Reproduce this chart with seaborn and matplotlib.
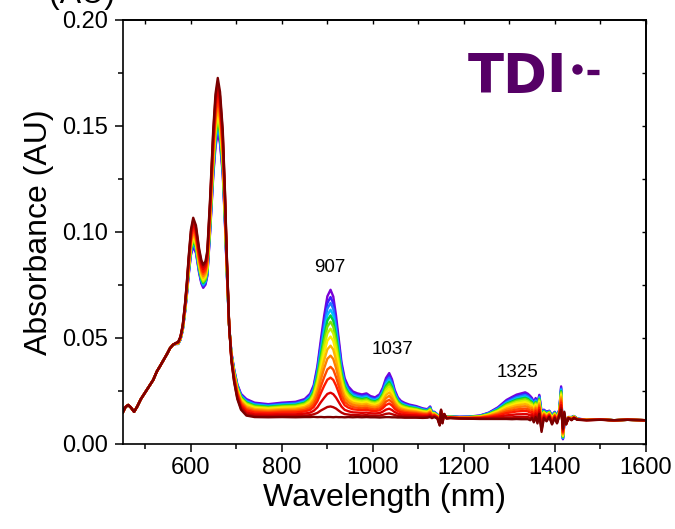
import numpy as np
import pandas as pd
import matplotlib
matplotlib.use("Agg")
import matplotlib.pyplot as plt
from matplotlib.ticker import MultipleLocator, FormatStrFormatter, NullFormatter
import seaborn as sns

# ---------------- data ----------------
wavelength = [450, 456, 462, 468, 475, 482, 490, 499, 508, 517, 525, 532, 540, 548, 554, 561, 567,
              572, 577, 582, 587, 591, 595, 600, 605, 611, 618, 623, 627, 632, 636, 642, 649, 654,
              659, 664, 670, 675, 679, 684, 689, 695, 702, 710, 722, 740, 770, 800, 830, 850, 862,
              870, 878, 886, 893, 900, 907, 913, 919, 925, 931, 938, 946, 956, 966, 976, 986, 995,
              1005, 1015, 1022, 1029, 1036, 1042, 1048, 1055, 1062, 1070, 1080, 1095, 1110, 1120,
              1126, 1130, 1135, 1142, 1147, 1150, 1153, 1157, 1162, 1170, 1190, 1210, 1235, 1255,
              1275, 1294, 1306, 1316, 1326, 1335, 1341, 1346, 1350, 1354, 1358, 1362, 1366, 1371,
              1376, 1382, 1388, 1394, 1400, 1405, 1410, 1414, 1418, 1421, 1425, 1430, 1437, 1442,
              1450, 1470, 1500, 1530, 1560, 1600]

# spectrum of the last (dark red) trace
base_spectrum = [0.0146, 0.0172, 0.0182, 0.0170, 0.0150, 0.0175, 0.0210, 0.0240, 0.0270, 0.0300,
                 0.0340, 0.0365, 0.0395, 0.0425, 0.0450, 0.0467, 0.0475, 0.0480, 0.0505, 0.0560,
                 0.0660, 0.0760, 0.0880, 0.1010, 0.1066, 0.1030, 0.0920, 0.0865, 0.0844, 0.0860,
                 0.0910, 0.1150, 0.1480, 0.1650, 0.1726, 0.1660, 0.1480, 0.1180, 0.0880, 0.0560,
                 0.0390, 0.0290, 0.0210, 0.0160, 0.0132, 0.0125, 0.0124, 0.0125, 0.0124, 0.0125,
                 0.0125, 0.0126, 0.0125, 0.0126, 0.0125, 0.0126, 0.0126, 0.0125, 0.0126, 0.0125,
                 0.0125, 0.0124, 0.0125, 0.0124, 0.0125, 0.0124, 0.0125, 0.0124, 0.0124, 0.0123,
                 0.0124, 0.0125, 0.0125, 0.0124, 0.0124, 0.0123, 0.0123, 0.0122, 0.0122, 0.0122,
                 0.0121, 0.0122, 0.0125, 0.0120, 0.0125, 0.0118, 0.0085, 0.0160, 0.0095, 0.0140,
                 0.0118, 0.0120, 0.0118, 0.0117, 0.0116, 0.0116, 0.0116, 0.0116, 0.0115, 0.0116,
                 0.0115, 0.0115, 0.0115, 0.0110, 0.0120, 0.0100, 0.0125, 0.0095, 0.0140, 0.0055,
                 0.0120, 0.0105, 0.0125, 0.0090, 0.0120, 0.0095, 0.0130, 0.0160, 0.0070, 0.0150,
                 0.0090, 0.0120, 0.0110, 0.0120, 0.0112, 0.0110, 0.0112, 0.0110, 0.0112, 0.0110]

# difference between the first (violet) trace and the last trace
violet_minus_base = [0, 0, 0, 0, 0, 0, 0, 0, 0, 0, 0, 0, 0, 0, 0, 0, -0.0005, -0.0010, -0.0015,
                     -0.0025, -0.0040, -0.0060, -0.0085, -0.0120, -0.0136, -0.0130, -0.0115,
                     -0.0110, -0.0109, -0.0110, -0.0120, -0.0160, -0.0220, -0.0250, -0.0256,
                     -0.0245, -0.0210, -0.0150, -0.0080, -0.0005, 0.0040, 0.0060, 0.0070, 0.0075,
                     0.0078, 0.0068, 0.0062, 0.0068, 0.0073, 0.0085, 0.0110, 0.0150, 0.0240,
                     0.0370, 0.0480, 0.0570, 0.0601, 0.0570, 0.0480, 0.0370, 0.0260, 0.0185,
                     0.0145, 0.0122, 0.0112, 0.0108, 0.0112, 0.0100, 0.0094, 0.0110, 0.0140,
                     0.0185, 0.0208, 0.0180, 0.0130, 0.0095, 0.0078, 0.0070, 0.0062, 0.0055,
                     0.0045, 0.0040, 0.0050, 0.0030, 0.0025, 0.0020, 0.0030, -0.0020, 0.0030,
                     -0.0010, 0.0010, 0.0008, 0.0008, 0.0010, 0.0016, 0.0030, 0.0055, 0.0090,
                     0.0105, 0.0115, 0.0122, 0.0127, 0.0120, 0.0115, 0.0095, 0.0095, 0.0090,
                     0.0095, 0.0090, 0.0095, 0.0040, 0.0045, 0.0030, 0.0045, 0.0030, 0.0035,
                     0.0030, 0.0110, -0.0050, -0.0060, 0.0010, 0.0005, 0.0015, 0.0010, 0.0005,
                     0.0003, 0.0002, 0.0, 0.0, 0.0]

# height of each trace at the 907 nm band (violet -> dark red)
peak_907 = [0.0726, 0.0692, 0.0664, 0.0632, 0.0605, 0.0575, 0.0542, 0.0505, 0.0462, 0.0415,
            0.0362, 0.0311, 0.0240, 0.0175, 0.0125]
trace_colors = ["#7B00D6", "#3B1CFF", "#1E7BFF", "#00BFFF", "#00D23C", "#7CE000", "#C8F000",
                "#FFEB00", "#FFB400", "#FF7F00", "#FF4A00", "#FF1A00", "#E00000", "#B80000",
                "#7A0000"]

peak_labels = ["907", "1037", "1325"]
peak_label_x = [906, 1044, 1318]
peak_label_y = [0.0829, 0.0446, 0.0334]

# ---------------- build table ----------------
wl = np.array(wavelength, dtype=float)
base = np.array(base_spectrum)
diff = np.array(violet_minus_base)
frames = []
for i, p in enumerate(peak_907):
    frac = (p - base[wavelength.index(907)]) / diff[wavelength.index(907)]
    frames.append(pd.DataFrame({"Wavelength": wl,
                                "Absorbance": base + frac * diff,
                                "trace": f"t{i:02d}"}))
df = pd.concat(frames, ignore_index=True)
order = [f"t{i:02d}" for i in range(len(peak_907))]
palette = dict(zip(order, trace_colors))

# ---------------- plot ----------------
sns.set_theme(style="ticks")
plt.rcParams["font.family"] = ["Liberation Sans", "DejaVu Sans"]
plt.rcParams["text.color"] = "black"
plt.rcParams["axes.labelcolor"] = "black"
plt.rcParams["xtick.color"] = "black"
plt.rcParams["ytick.color"] = "black"
plt.rcParams["axes.edgecolor"] = "black"

fig = plt.figure(figsize=(6.75, 5.29), dpi=100)
ax = fig.add_axes([0.1818, 0.1616, 0.7748, 0.8006])

sns.lineplot(data=df, x="Wavelength", y="Absorbance", hue="trace", hue_order=order,
             palette=palette, sort=False, estimator=None, legend=False, linewidth=1.7, ax=ax)

ax.set_xlim(450, 1600)
ax.set_ylim(0, 0.20)
ax.xaxis.set_major_locator(MultipleLocator(200))
ax.xaxis.set_minor_locator(MultipleLocator(100))
ax.yaxis.set_major_locator(MultipleLocator(0.05))
ax.yaxis.set_minor_locator(MultipleLocator(0.025))
ax.yaxis.set_major_formatter(FormatStrFormatter("%.2f"))

ax.tick_params(axis="both", which="major", direction="out", length=6, width=1.1,
               labelsize=17, colors="black")
ax.tick_params(axis="both", which="minor", direction="out", length=3.5, width=1.1,
               colors="black")
ax.tick_params(axis="x", which="major", pad=3.5)
ax.tick_params(axis="y", which="major", pad=4.5)

for s in ax.spines.values():
    s.set_visible(True)
    s.set_linewidth(1.2)
    s.set_color("black")

# inward ticks on top and right
top = ax.secondary_xaxis("top")
top.xaxis.set_major_locator(MultipleLocator(100))
top.xaxis.set_major_formatter(NullFormatter())
top.tick_params(direction="in", length=3, width=1.0, colors="black")
right = ax.secondary_yaxis("right")
right.yaxis.set_major_locator(MultipleLocator(0.025))
right.yaxis.set_major_formatter(NullFormatter())
right.tick_params(direction="in", length=3, width=1.0, colors="black")

ax.set_xlabel("Wavelength (nm)", fontsize=23, labelpad=3, color="black")
ax.set_ylabel("Absorbance (AU)", fontsize=23, labelpad=6, color="black")

for t, x, y in zip(peak_labels, peak_label_x, peak_label_y):
    ax.text(x, y, t, fontsize=13.5, ha="center", va="center", color="black")

# title-like label
purple = "#560066"
ax.text(0.66, 0.831, "TDI", transform=ax.transAxes, fontsize=38, fontweight="bold",
        family="DejaVu Sans", color=purple, ha="left", va="baseline")
ax.plot([0.869], [0.884], transform=ax.transAxes, marker="o", markersize=7.5,
        color=purple, markeredgewidth=0, clip_on=False)
ax.plot([0.888, 0.910], [0.878, 0.878], transform=ax.transAxes, color=purple,
        linewidth=3.8, solid_capstyle="butt", clip_on=False)

# unit label cropped at the very top-left, as in the reference
fig.text(82 / 675, 1 - 3 / 529, "(AU)", fontsize=23, ha="center", va="baseline",
         color="black")

fig.savefig("out.png", dpi=100)
